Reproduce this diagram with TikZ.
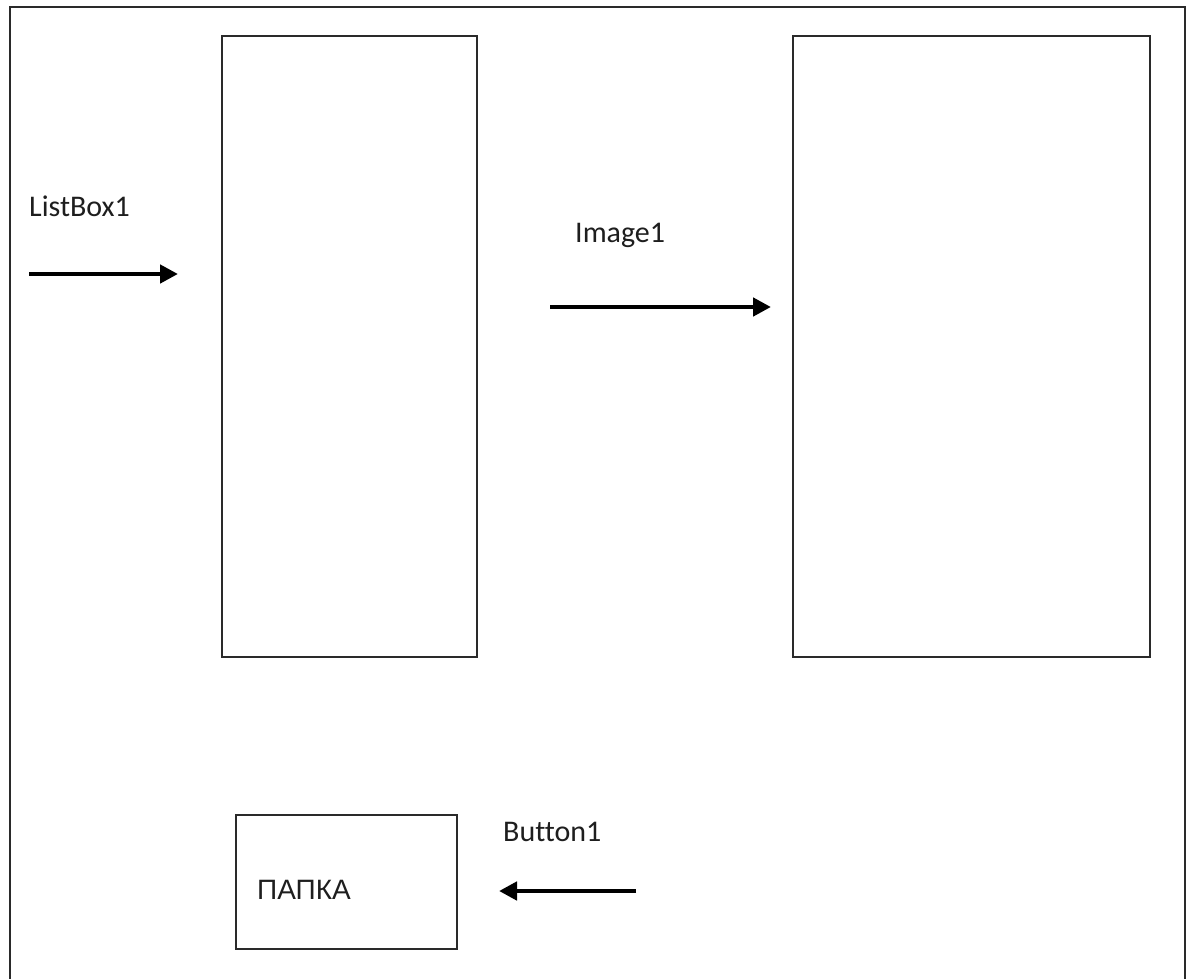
\documentclass[tikz,border=0pt]{standalone}
\usepackage{fontspec}
\setmainfont{Carlito}[Ligatures={NoCommon}]
\newfontfamily\labelsans{Liberation Sans}
\usetikzlibrary{arrows.meta}

\definecolor{edge}{HTML}{2A2A2A}
\definecolor{ink}{HTML}{1E1E1E}

\tikzset{
  panel/.style={draw=edge, line width=2pt, fill=none, inner sep=0pt, rectangle},
  caption/.style={anchor=base west, inner sep=0pt, text=ink,
                  font=\fontsize{30}{36}\selectfont},
  flow/.style={line width=4.5pt, draw=black,
               -{Triangle[length=18pt,width=18pt]}},
}

\begin{document}
\begin{tikzpicture}[x=1pt, y=-1pt]
  % page extent
  \useasboundingbox (0,0) rectangle (1188,979);
  \fill[white] (0,0) rectangle (1188,979);

  % outer form frame (its lower edge lies below the page)
  \draw[draw=edge, line width=2pt] (9.5,990) -- (9.5,7.5) -- (1185,7.5) -- (1185,990);

  % list box and image panel
  \node[panel, minimum width=255pt, minimum height=621pt] (listbox) at (349.5,346.5) {};
  \node[panel, minimum width=357pt, minimum height=621pt] (image) at (971.5,346.5) {};

  % folder button
  \node[panel, minimum width=221pt, minimum height=134pt] (button) at (346.5,882) {};
  \node[anchor=base west, inner sep=0pt, text=ink,
        font=\labelsans\fontsize{28}{34}\selectfont] (papka) at (257,899) {ПАПКА};

  % captions
  \node[caption] (lblist) at (29,216) {ListBox1};
  \node[caption] (lbimage) at (575,242) {Image1};
  \node[caption] (lbbutton) at (503,841) {Button1};

  % pointer arrows
  \coordinate (a1s) at (29,274);
  \coordinate (a1e) at (178,274);
  \coordinate (a2s) at (550,307);
  \coordinate (a2e) at (771,307);
  \coordinate (a3s) at (636,891);
  \coordinate (a3e) at (499,891);
  \draw[flow] (a1s) -- (a1e);
  \draw[flow] (a2s) -- (a2e);
  \draw[flow] (a3s) -- (a3e);
\end{tikzpicture}
\end{document}
